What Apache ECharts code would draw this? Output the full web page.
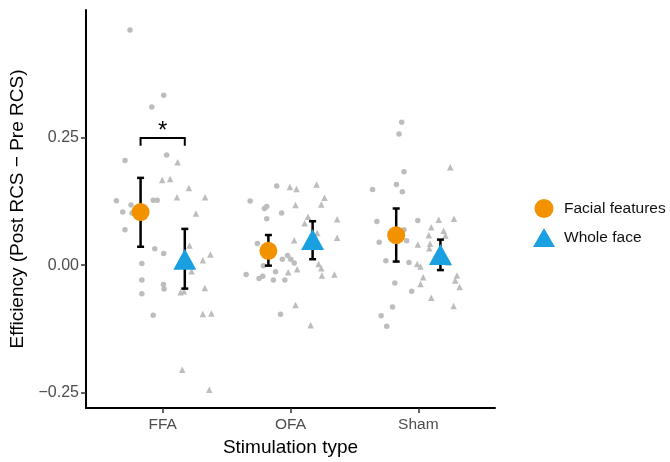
<!DOCTYPE html>
<html><head><meta charset="utf-8">
<script src="https://cdn.jsdelivr.net/npm/echarts@6/dist/echarts.min.js"></script>
<style>html,body{margin:0;padding:0;background:#fff}#c{width:670px;height:462px}</style>
</head><body><div id="c"></div>
<script>
const categories = ['FFA', 'OFA', 'Sham'];
const legendNames = ['Facial features', 'Whole face'];
const ffMean = [0.104, 0.028, 0.0587];
const ffLow  = [0.036, -0.001, 0.007];
const ffHigh = [0.171, 0.059, 0.111];
const wfMean = [0.0116, 0.050, 0.021];
const wfLow  = [-0.046, 0.0116, -0.0097];
const wfHigh = [0.071, 0.086, 0.050];
const yTicks = [-0.25, 0, 0.25];
// individual participants: [jittered x position (category units), value]
const ffPoints = [
  [0.744,0.461],[1.008,0.333],[0.915,0.310],[1.031,0.216],[0.705,0.205],[0.638,0.126],[0.752,0.118],
  [0.926,0.127],[0.957,0.127],[0.687,0.104],[0.760,0.102],[0.705,0.0695],[0.938,0.032],[1.008,0.0226],
  [0.837,0.003],[0.837,-0.029],[1.006,-0.038],[1.011,-0.047],[0.837,-0.056],[0.926,-0.098],
  [1.892,0.155],[1.684,0.1255],[1.796,0.111],[1.814,0.115],[1.930,0.102],[1.814,0.091],[1.741,0.0425],
  [1.936,0.0116],[1.977,0.019],[2.002,0.0116],[2.029,0.004],[1.788,-0.001],[1.883,-0.013],[1.653,-0.0185],
  [1.754,-0.026],[1.783,-0.022],[1.866,-0.029],[1.956,-0.029],[1.922,-0.0965],
  [2.870,0.280],[2.849,0.257],[2.888,0.183],[2.642,0.148],[2.829,0.158],[2.875,0.1436],[2.676,0.0857],
  [2.996,0.0876],[2.888,0.0695],[2.909,0.048],[2.694,0.045],[2.746,0.0085],[2.927,0.005],[2.816,-0.035],
  [2.948,-0.051],[2.798,-0.082],[2.709,-0.099],[2.753,-0.120]
];
const wfPoints = [
  [1.117,0.2015],[0.996,0.167],[1.058,0.169],[1.205,0.151],[1.112,0.133],[1.332,0.133],[1.260,0.101],
  [1.210,0.0386],[1.373,0.021],[1.314,0.0097],[1.226,-0.012],[1.140,-0.053],[1.167,-0.051],[1.330,-0.045],
  [1.314,-0.096],[1.381,-0.095],[1.153,-0.205],[1.365,-0.244],
  [1.995,0.153],[2.047,0.149],[2.204,0.158],[2.266,0.132],[2.039,0.118],[2.241,0.119],[2.137,0.095],
  [2.111,0.082],[2.365,0.090],[2.210,0.063],[2.365,0.0535],[2.029,0.049],[2.052,-0.008],[2.220,0.002],
  [2.241,-0.006],[1.982,-0.014],[2.246,-0.0205],[2.344,-0.0185],[2.039,-0.078],[2.158,-0.118],
  [3.250,0.192],[3.160,0.0888],[3.279,0.0907],[3.101,0.074],[3.198,0.0676],[3.082,0.0587],[3.212,0.058],
  [2.996,0.0405],[3.092,0.042],[3.086,0.033],[3.237,0.005],[2.991,0.002],[3.017,-0.0025],[3.038,-0.024],
  [3.017,-0.037],[3.302,-0.0205],[3.289,-0.030],[3.323,-0.043],[3.101,-0.064],[3.276,-0.080]
];
const sigCategory = 0;      // FFA
const sigLabel = '*';
const sigLevel = 0.249;
const sigDrop = 0.015;

const dodge = 0.173;
const catX = categories.map((c, i) => i + 1);
const ffMeanData = catX.map((x, i) => [x - dodge, ffMean[i]]);
const wfMeanData = catX.map((x, i) => [x + dodge, wfMean[i]]);
const errData = catX.map((x, i) => [x - dodge, ffLow[i], ffHigh[i]])
  .concat(catX.map((x, i) => [x + dodge, wfLow[i], wfHigh[i]]));
const sigData = [[catX[sigCategory] - dodge, catX[sigCategory] + dodge, sigLevel, sigLevel - sigDrop]];

const ORANGE = '#F39200', BLUE = '#1A9FE0', GRAY = '#BDBDBD';
const fmt = v => (v < 0 ? '\u2212' : '') + Math.abs(v).toFixed(2);

const chart = echarts.init(document.getElementById('c'), null, {renderer: 'canvas'});
chart.setOption({
  animation: false,
  backgroundColor: '#fff',
  grid: {left: 83, right: 175, top: 10, bottom: 49, containLabel: false},
  legend: {
    data: [{name: legendNames[0], icon: 'circle'}, {name: legendNames[1], icon: 'triangle'}],
    orient: 'vertical', left: 528, top: 194, itemWidth: 22, itemHeight: 19, itemGap: 10,
    selectedMode: false,
    textStyle: {fontFamily: 'Liberation Sans', fontSize: 15.5, color: '#111', padding: [0, 0, 0, 4]}
  },
  xAxis: {
    type: 'value', min: 0.4, max: 3.6,
    name: 'Stimulation type', nameLocation: 'middle', nameGap: 30,
    nameTextStyle: {fontFamily: 'Liberation Sans', fontSize: 19, color: '#000'},
    axisLine: {show: true, onZero: false, lineStyle: {color: '#000', width: 2}},
    axisTick: {show: true, customValues: catX, length: 5, lineStyle: {color: '#333', width: 1.5}},
    axisLabel: {customValues: catX, formatter: v => categories[Math.round(v) - 1], margin: 9,
      fontFamily: 'Liberation Sans', fontSize: 15.5, color: '#4D4D4D'},
    splitLine: {show: false}
  },
  yAxis: {
    type: 'value', min: -0.28, max: 0.5,
    name: 'Efficiency (Post RCS \u2212 Pre RCS)', nameLocation: 'middle', nameGap: 59,
    nameTextStyle: {fontFamily: 'Liberation Sans', fontSize: 19, color: '#000'},
    axisLine: {show: true, lineStyle: {color: '#000', width: 2}},
    axisTick: {show: true, customValues: yTicks, length: 5, lineStyle: {color: '#333', width: 1.5}},
    axisLabel: {customValues: yTicks, formatter: fmt, margin: 7,
      fontFamily: 'Liberation Sans', fontSize: 16, color: '#4D4D4D'},
    splitLine: {show: false}
  },
  series: [
    {type: 'scatter', name: 'ffRaw', data: ffPoints, symbol: 'circle', symbolSize: 5.5,
      itemStyle: {color: GRAY, opacity: 1}, silent: true, z: 1},
    {type: 'scatter', name: 'wfRaw', data: wfPoints, symbol: 'triangle', symbolSize: 6.5,
      itemStyle: {color: GRAY, opacity: 1}, silent: true, z: 1},
    {type: 'custom', name: 'err', data: errData, z: 3, silent: true,
      renderItem: (params, api) => {
        const x = api.value(0);
        const lo = api.coord([x, api.value(1)]);
        const hi = api.coord([x, api.value(2)]);
        const w = 3.5;
        const st = {stroke: '#000', lineWidth: 2.5};
        return {type: 'group', children: [
          {type: 'line', shape: {x1: lo[0], y1: lo[1], x2: hi[0], y2: hi[1]}, style: st},
          {type: 'line', shape: {x1: lo[0] - w, y1: lo[1], x2: lo[0] + w, y2: lo[1]}, style: st},
          {type: 'line', shape: {x1: hi[0] - w, y1: hi[1], x2: hi[0] + w, y2: hi[1]}, style: st}
        ]};
      }},
    {type: 'custom', name: 'sig', data: sigData, z: 3, silent: true,
      renderItem: (params, api) => {
        const a = api.coord([api.value(0), api.value(2)]);
        const b = api.coord([api.value(1), api.value(2)]);
        const a2 = api.coord([api.value(0), api.value(3)]);
        const b2 = api.coord([api.value(1), api.value(3)]);
        return {type: 'group', children: [
          {type: 'polyline', shape: {points: [a2, a, b, b2]}, style: {stroke: '#000', lineWidth: 2, fill: null}},
          {type: 'text', x: (a[0] + b[0]) / 2, y: a[1] + 5,
            style: {text: sigLabel, fontFamily: 'Liberation Sans', fontSize: 24, fill: '#000',
              align: 'center', verticalAlign: 'bottom'}}
        ]};
      }},
    {type: 'scatter', name: legendNames[0], data: ffMeanData, symbol: 'circle', symbolSize: 18,
      itemStyle: {color: ORANGE, opacity: 1}, z: 5},
    {type: 'scatter', name: legendNames[1], data: wfMeanData, symbol: 'triangle', symbolSize: [23, 21],
      itemStyle: {color: BLUE, opacity: 1}, z: 5}
  ]
});
</script></body></html>
